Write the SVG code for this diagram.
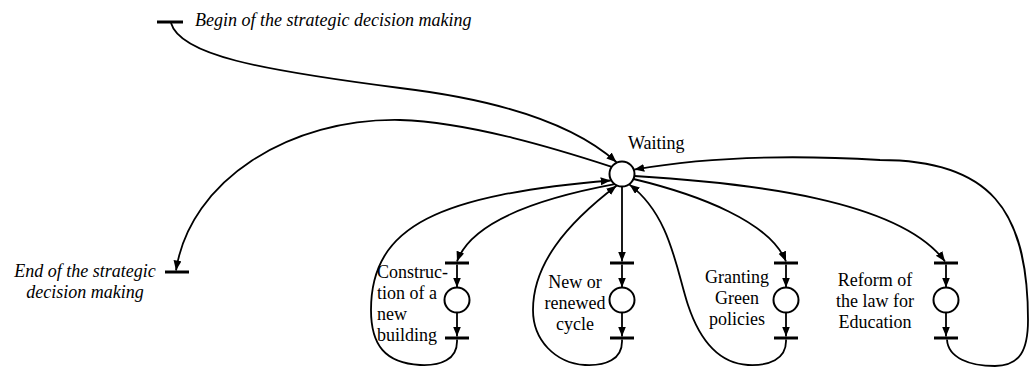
<svg xmlns="http://www.w3.org/2000/svg" width="1031" height="367" viewBox="0 0 1031 367">
  <defs>
    <marker id="arrow" markerUnits="userSpaceOnUse" markerWidth="11" markerHeight="9" refX="10" refY="4" orient="auto">
      <path d="M0,0 L10,4 L0,8 Z" fill="#000"/>
    </marker>
  </defs>
  <style>
    .arc { fill: none; stroke: #000; stroke-width: 1.8; }
    .arr { marker-end: url(#arrow); }
    .bar { stroke: #000; stroke-width: 3; }
    .place { fill: #fff; stroke: #000; stroke-width: 2; }
    .lbl { font-family: "Liberation Serif", "Times New Roman", serif; font-size: 18px; fill: #000; }
    .it { font-style: italic; }
    .mid { text-anchor: middle; }
  </style>
  <rect width="1031" height="367" fill="#fff"/>

  <!-- connectors -->
  <g id="connectors">
    <!-- begin transition to Waiting -->
    <path class="arc arr" d="M171,23 C180,55 260,70 400,88 C500,100 575,125 616.5,162.2"/>
    <!-- Waiting to end transition -->
    <path class="arc arr" d="M611.8,166.8 C560,150 470,122 400,120 C290,118 190,180 176,270.5"/>
    <!-- Waiting to each decision branch -->
    <path class="arc arr" d="M614.8,184.2 C530,200 470,225 457,261.5"/>
    <path class="arc arr" d="M622,186.5 L622,261.5"/>
    <path class="arc arr" d="M633.5,179 C700,195 770,222 786,261.5"/>
    <path class="arc arr" d="M634.5,176 C750,183 900,200 945,261.5"/>
    <!-- branch internals -->
    <path class="arc arr" d="M457,264.5 L457,287.5"/>
    <path class="arc arr" d="M457,312.5 L457,336.5"/>
    <path class="arc arr" d="M622,264.5 L622,287.5"/>
    <path class="arc arr" d="M622,312.5 L622,336.5"/>
    <path class="arc arr" d="M786,264.5 L786,287.5"/>
    <path class="arc arr" d="M786,312.5 L786,336.5"/>
    <path class="arc arr" d="M946,264.5 L946,287.5"/>
    <path class="arc arr" d="M946,312.5 L946,336.5"/>
    <!-- returns to Waiting -->
    <path class="arc arr" d="M457,339.5 C458,360 440,366 420,365 C385,363 371,345 371,310 C371,225 440,195 610.7,180.5"/>
    <path class="arc arr" d="M622,339.5 C623,360 605,366 585,365 C555,363 533,340 533,310 C533,265 565,225 616.5,185.8"/>
    <path class="arc arr" d="M786,339.5 C787,360 768,366 748,365 C715,363 698,335 688,305 C676,268 670,215 629.5,184.6"/>
    <path class="arc arr" d="M947,339.5 C948,358 970,366 995,366 C1020,366 1028,350 1028,320 C1028,210 990,160 880,160 C780,154 700,158 634.2,169.6"/>
  </g>

  <!-- start / end transitions -->
  <g id="begin">
    <line class="bar" x1="157" y1="22" x2="183" y2="22"/>
    <text class="lbl it" x="195" y="26">Begin of the strategic decision making</text>
  </g>
  <g id="end">
    <line class="bar" x1="165" y1="272" x2="189" y2="272"/>
    <text class="lbl it mid" x="85" y="277">End of the strategic</text>
    <text class="lbl it mid" x="85" y="298">decision making</text>
  </g>

  <!-- waiting place -->
  <g id="waiting">
    <circle class="place" cx="622" cy="174" r="12.5"/>
    <text class="lbl" x="628" y="149">Waiting</text>
  </g>

  <!-- decision branches -->
  <g id="construction">
    <line class="bar" x1="445" y1="263" x2="469" y2="263"/>
    <circle class="place" cx="457" cy="300" r="12.5"/>
    <line class="bar" x1="445" y1="338" x2="469" y2="338"/>
    <text class="lbl" x="377" y="278">Construc-</text>
    <text class="lbl" x="377" y="299">tion of a</text>
    <text class="lbl" x="377" y="320">new</text>
    <text class="lbl" x="377" y="341">building</text>
  </g>
  <g id="cycle">
    <line class="bar" x1="610" y1="263" x2="634" y2="263"/>
    <circle class="place" cx="622" cy="300" r="12.5"/>
    <line class="bar" x1="610" y1="338" x2="634" y2="338"/>
    <text class="lbl mid" x="575" y="288">New or</text>
    <text class="lbl mid" x="575" y="309">renewed</text>
    <text class="lbl mid" x="575" y="330">cycle</text>
  </g>
  <g id="green">
    <line class="bar" x1="774" y1="263" x2="798" y2="263"/>
    <circle class="place" cx="786" cy="300" r="12.5"/>
    <line class="bar" x1="774" y1="338" x2="798" y2="338"/>
    <text class="lbl mid" x="737" y="283">Granting</text>
    <text class="lbl mid" x="737" y="304">Green</text>
    <text class="lbl mid" x="737" y="325">policies</text>
  </g>
  <g id="reform">
    <line class="bar" x1="934" y1="263" x2="958" y2="263"/>
    <circle class="place" cx="946" cy="300" r="12.5"/>
    <line class="bar" x1="934" y1="338" x2="958" y2="338"/>
    <text class="lbl mid" x="875" y="286">Reform of</text>
    <text class="lbl mid" x="875" y="307">the law for</text>
    <text class="lbl mid" x="875" y="328">Education</text>
  </g>
</svg>
